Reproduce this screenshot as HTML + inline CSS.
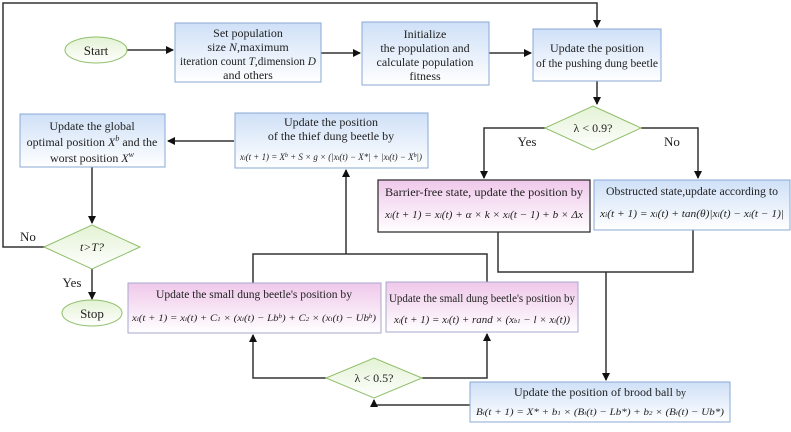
<!DOCTYPE html>
<html><head><meta charset="utf-8"><style>
body{margin:0;background:#fff}
svg text{font-family:"Liberation Serif",serif;fill:#222}
.m{font-style:italic}
</style></head><body>
<svg width="791" height="427" viewBox="0 0 791 427" xmlns="http://www.w3.org/2000/svg">
<defs>
<linearGradient id="bl" x1="0" y1="0" x2="0" y2="1"><stop offset="0" stop-color="#cfe0f7"/><stop offset="1" stop-color="#ffffff"/></linearGradient>
<linearGradient id="pk" x1="0" y1="0" x2="0" y2="1"><stop offset="0" stop-color="#efc8ea"/><stop offset="1" stop-color="#ffffff"/></linearGradient>
<linearGradient id="gr" x1="0" y1="0" x2="0" y2="1"><stop offset="0" stop-color="#e3f2d3"/><stop offset="1" stop-color="#ffffff"/></linearGradient>
<marker id="a" markerWidth="8" markerHeight="8" refX="7" refY="4" orient="auto" markerUnits="userSpaceOnUse"><path d="M0,0 L8,4 L0,8 Z" fill="#111"/></marker>
</defs>
<g stroke="#333" stroke-width="1.5" fill="none">
<polyline points="45,247 3,247 3,3 597,3 597,27" marker-end="url(#a)"/>
<line x1="127" y1="50" x2="173" y2="50" marker-end="url(#a)"/>
<line x1="321" y1="53" x2="360" y2="53" marker-end="url(#a)"/>
<line x1="489" y1="53" x2="531" y2="53" marker-end="url(#a)"/>
<line x1="597" y1="81" x2="597" y2="104" marker-end="url(#a)"/>
<polyline points="545,128 484,128 484,178" marker-end="url(#a)"/>
<polyline points="641,128 698,128 698,178" marker-end="url(#a)"/>
<polyline points="498,232 498,272 693,272 693,230"/>
<line x1="606" y1="272" x2="606" y2="380" marker-end="url(#a)"/>
<line x1="234" y1="141" x2="168" y2="141" marker-end="url(#a)"/>
<line x1="92" y1="167" x2="92" y2="223" marker-end="url(#a)"/>
<line x1="92" y1="269" x2="92" y2="299" marker-end="url(#a)"/>
<polyline points="253,283 253,254 487,254 487,282"/>
<line x1="346" y1="254" x2="346" y2="170" marker-end="url(#a)"/>
<polyline points="326,378 253,378 253,335" marker-end="url(#a)"/>
<polyline points="422,378 487,378 487,334" marker-end="url(#a)"/>
<polyline points="470,405 374,405 374,400" marker-end="url(#a)"/>
</g>

<ellipse cx="96" cy="50" rx="31" ry="13" fill="url(#gr)" stroke="#8fbf6a"/>
<text x="96" y="55" text-anchor="middle" font-size="13">Start</text>

<rect x="175" y="23" width="146" height="59" fill="url(#bl)" stroke="#8aa8d6"/>
<text x="248" y="37" text-anchor="middle" font-size="12">Set population</text>
<text x="248" y="51" text-anchor="middle" font-size="12">size <tspan class="m">N</tspan>,maximum</text>
<text x="248" y="65" text-anchor="middle" font-size="12" textLength="136" lengthAdjust="spacingAndGlyphs">iteration count <tspan class="m">T</tspan>,dimension <tspan class="m">D</tspan></text>
<text x="248" y="79" text-anchor="middle" font-size="12">and others</text>

<rect x="362" y="22" width="127" height="63" fill="url(#bl)" stroke="#8aa8d6"/>
<text x="425" y="38" text-anchor="middle" font-size="12">Initialize</text>
<text x="425" y="52" text-anchor="middle" font-size="12">the population and</text>
<text x="425" y="66" text-anchor="middle" font-size="12">calculate population</text>
<text x="425" y="80" text-anchor="middle" font-size="12">fitness</text>

<rect x="533" y="29" width="128" height="52" fill="url(#bl)" stroke="#8aa8d6"/>
<text x="597" y="52" text-anchor="middle" font-size="12">Update the position</text>
<text x="597" y="67" text-anchor="middle" font-size="12" textLength="122" lengthAdjust="spacingAndGlyphs">of the pushing dung beetle</text>

<polygon points="593,106 641,128 593,150 545,128" fill="url(#gr)" stroke="#8fbf6a"/>
<text x="593" y="132" text-anchor="middle" font-size="12">λ &lt; 0.9?</text>
<text x="527" y="146" text-anchor="middle" font-size="13">Yes</text>
<text x="672" y="146" text-anchor="middle" font-size="13">No</text>

<rect x="378" y="180" width="212" height="52" fill="url(#pk)" stroke="#333" stroke-width="1.3"/>
<text x="484" y="196" text-anchor="middle" font-size="12" textLength="198" lengthAdjust="spacingAndGlyphs">Barrier-free state, update the position by</text>
<text x="484" y="218" text-anchor="middle" font-size="10.5" class="m" textLength="198" lengthAdjust="spacingAndGlyphs">x<tspan font-size="7">i</tspan>(t + 1) = x<tspan font-size="7">i</tspan>(t) + α × k × x<tspan font-size="7">i</tspan>(t − 1) + b × Δx</text>

<rect x="594" y="180" width="196" height="50" fill="url(#bl)" stroke="#8aa8d6"/>
<text x="692" y="195" text-anchor="middle" font-size="12" textLength="172" lengthAdjust="spacingAndGlyphs">Obstructed state,update according to</text>
<text x="692" y="217" text-anchor="middle" font-size="10" class="m" textLength="184" lengthAdjust="spacingAndGlyphs">x<tspan font-size="7">i</tspan>(t + 1) = x<tspan font-size="7">i</tspan>(t) + tan(θ)|x<tspan font-size="7">i</tspan>(t) − x<tspan font-size="7">i</tspan>(t − 1)|</text>

<rect x="235" y="113" width="193" height="55" fill="url(#bl)" stroke="#8aa8d6"/>
<text x="331" y="126" text-anchor="middle" font-size="12">Update the position</text>
<text x="331" y="140" text-anchor="middle" font-size="12">of the thief dung beetle by</text>
<text x="331" y="160" text-anchor="middle" font-size="9" class="m" textLength="182" lengthAdjust="spacingAndGlyphs">x<tspan font-size="6">i</tspan>(t + 1) = X<tspan font-size="6" dy="-3">b</tspan><tspan dy="3"> + S × g × (|x</tspan><tspan font-size="6">i</tspan>(t) − X*| + |x<tspan font-size="6">i</tspan>(t) − X<tspan font-size="6" dy="-3">b</tspan><tspan dy="3">|)</tspan></text>

<rect x="20" y="114" width="145" height="53" fill="url(#bl)" stroke="#8aa8d6"/>
<text x="92" y="130" text-anchor="middle" font-size="12">Update the global</text>
<text x="92" y="146" text-anchor="middle" font-size="12">optimal position <tspan class="m">X</tspan><tspan font-size="8" dy="-5" class="m">b</tspan><tspan dy="5"> and the</tspan></text>
<text x="92" y="162" text-anchor="middle" font-size="12">worst position <tspan class="m">X</tspan><tspan font-size="8" dy="-5" class="m">w</tspan></text>

<polygon points="92,225 140,247 92,269 44,247" fill="url(#gr)" stroke="#8fbf6a"/>
<text x="92" y="251" text-anchor="middle" font-size="12" class="m">t&gt;T?</text>
<text x="28" y="241" text-anchor="middle" font-size="13">No</text>
<text x="72" y="287" text-anchor="middle" font-size="13">Yes</text>
<ellipse cx="92" cy="313" rx="30" ry="13" fill="url(#gr)" stroke="#8fbf6a"/>
<text x="92" y="318" text-anchor="middle" font-size="13">Stop</text>

<rect x="128" y="283" width="253" height="50" fill="url(#pk)" stroke="#a8a8d0"/>
<text x="254" y="298" text-anchor="middle" font-size="12" textLength="196" lengthAdjust="spacingAndGlyphs">Update the small dung beetle's position by</text>
<text x="254" y="321" text-anchor="middle" font-size="9.5" class="m" textLength="244" lengthAdjust="spacingAndGlyphs">x<tspan font-size="6">i</tspan>(t + 1) = x<tspan font-size="6">i</tspan>(t) + C<tspan font-size="6">1</tspan> × (x<tspan font-size="6">i</tspan>(t) − Lb<tspan font-size="6" dy="-3">b</tspan><tspan dy="3">) + C</tspan><tspan font-size="6">2</tspan> × (x<tspan font-size="6">i</tspan>(t) − Ub<tspan font-size="6" dy="-3">b</tspan><tspan dy="3">)</tspan></text>

<rect x="386" y="282" width="192" height="50" fill="url(#pk)" stroke="#a8a8d0"/>
<text x="482" y="302" text-anchor="middle" font-size="12" textLength="186" lengthAdjust="spacingAndGlyphs">Update the small dung beetle's position by</text>
<text x="482" y="323" text-anchor="middle" font-size="10" class="m" textLength="176" lengthAdjust="spacingAndGlyphs">x<tspan font-size="6">i</tspan>(t + 1) = x<tspan font-size="6">i</tspan>(t) + rand × (x<tspan font-size="6">b1</tspan> − l × x<tspan font-size="6">i</tspan>(t))</text>

<polygon points="374,358 422,378 374,398 326,378" fill="url(#gr)" stroke="#8fbf6a"/>
<text x="374" y="382" text-anchor="middle" font-size="12">λ &lt; 0.5?</text>

<rect x="470" y="382" width="260" height="40" fill="url(#bl)" stroke="#8aa8d6"/>
<text x="600" y="396" text-anchor="middle" font-size="12">Update the position of brood ball <tspan font-size="10">by</tspan></text>
<text x="600" y="415" text-anchor="middle" font-size="9.5" class="m" textLength="248" lengthAdjust="spacingAndGlyphs">B<tspan font-size="6">i</tspan>(t + 1) = X* + b<tspan font-size="6">1</tspan> × (B<tspan font-size="6">i</tspan>(t) − Lb*) + b<tspan font-size="6">2</tspan> × (B<tspan font-size="6">i</tspan>(t) − Ub*)</text>
</svg>
</body></html>
